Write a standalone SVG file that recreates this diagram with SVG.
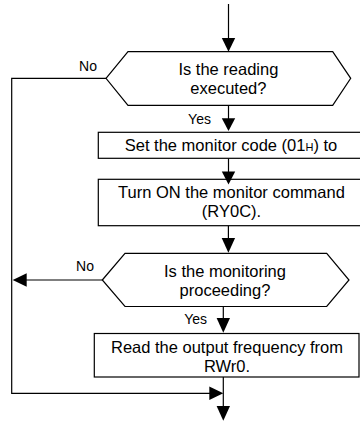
<svg xmlns="http://www.w3.org/2000/svg" width="360" height="424" viewBox="0 0 360 424">
<style>
.s{fill:#fff;stroke:#000;stroke-width:1.2}
.l{fill:none;stroke:#000;stroke-width:1.2}
.h{fill:#000;stroke:none}
.t{font-family:"Liberation Sans",Arial,sans-serif;font-size:16.5px;fill:#000;text-anchor:middle}
.lb{font-family:"Liberation Sans",Arial,sans-serif;font-size:14px;fill:#000;text-anchor:middle}
</style>
<rect width="360" height="424" fill="#fff"/>
<g id="connectors">
<path class="l" d="M228.5,4 V40"/>
<polygon class="h" points="221.8,38 235.2,38 228.5,51.7"/>
<path class="l" d="M228.5,105.3 V120"/>
<polygon class="h" points="221.8,118.3 235.2,118.3 228.5,131"/>
<path class="l" d="M228.5,158.3 V173"/>
<path class="l" d="M228.4,225.7 V240"/>
<polygon class="h" points="221.7,238 235.1,238 228.4,252.7"/>
<path class="l" d="M223.3,306.5 V320"/>
<polygon class="h" points="216.6,318 230,318 223.3,332.7"/>
<path class="l" d="M106,78.3 H11.7 V393.3 H211"/>
<polygon class="h" points="209.3,386.6 209.3,400 223.3,393.3"/>
<path class="l" d="M102.3,280 H25"/>
<polygon class="h" points="26.7,273.3 26.7,286.7 12.7,280"/>
<path class="l" d="M223.3,377 V408"/>
<polygon class="h" points="216.6,406 230,406 223.3,420.7"/>
<text class="lb" x="88" y="71">No</text>
<text class="lb" x="199.5" y="123.5">Yes</text>
<text class="lb" x="85" y="271">No</text>
<text class="lb" x="195.7" y="324">Yes</text>
</g>
<g id="decision1">
<polygon class="s" points="106,78.3 128,51.7 332.7,51.7 350.7,78.3 332.7,105.3 128,105.3"/>
<text class="t" x="228.4" y="75">Is the reading</text>
<text class="t" x="228.4" y="94">executed?</text>
</g>
<g id="step1">
<rect class="s" x="98.3" y="132.3" width="266" height="26"/>
<text class="t" x="231" y="151">Set the monitor code (01<tspan font-size="11px">H</tspan>) to</text>
</g>
<g id="step2">
<rect class="s" x="98.3" y="179.3" width="266" height="46.4"/>
<text class="t" x="231.5" y="198">Turn ON the monitor command</text>
<text class="t" x="231.5" y="217">(RY0C).</text>
</g>
<polygon class="h" points="221.8,171.5 235.2,171.5 228.5,184.5"/>
<g id="decision2">
<polygon class="s" points="102.3,280 125,253.3 326.7,253.3 349,280 326.7,306.5 125,306.5"/>
<text class="t" x="225" y="277">Is the monitoring</text>
<text class="t" x="225" y="296">proceeding?</text>
</g>
<g id="step3">
<rect class="s" x="94.3" y="333.5" width="264.7" height="43.5"/>
<text class="t" x="227" y="353">Read the output frequency from</text>
<text class="t" x="227" y="372">RWr0.</text>
</g>
</svg>
